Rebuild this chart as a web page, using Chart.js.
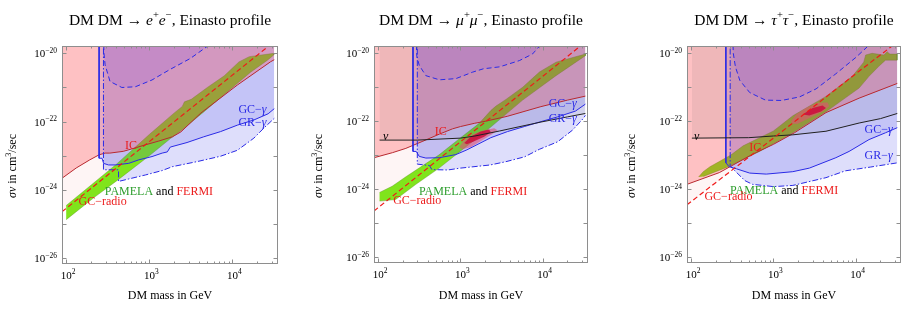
<!DOCTYPE html>
<html>
<head>
<meta charset="utf-8">
<script src="https://cdn.jsdelivr.net/npm/chart.js@4.4.1/dist/chart.umd.min.js"></script>
<style>
  body { margin: 0; background: #fff; }
  #wrap { position: relative; width: 917px; height: 314px; }
  canvas { position: absolute; top: 0; }
</style>
</head>
<body>
<div id="wrap">
  <canvas id="c1" width="305" height="314" style="left:0"></canvas>
  <canvas id="c2" width="305" height="314" style="left:305px"></canvas>
  <canvas id="c3" width="307" height="314" style="left:610px"></canvas>
</div>
<script>
const SERIF = '"Liberation Serif", "DejaVu Serif", serif';

// axis ranges (DM mass in GeV, sigma v in cm^3/s)
const massMin = 89, massMax = 35500;
const sigmaMin = 6.8e-27, sigmaMax = 1.64e-20;
const massTicks = [100, 1000, 10000];
const sigmaTicks = [1e-20, 1e-22, 1e-24, 1e-26];

// ---- DM DM -> e+ e- ----
const icE = [[89,2.2e-24],[132,4.4e-24],[192,7.6e-24],[249,1.07e-23],[294,1.2e-23],[335,1.2e-23],[486,1.35e-23],[705,1.75e-23],[900,2.1e-23],[1300,2.7e-23],[1900,3.6e-23],[2400,5e-23],[4200,1.8e-22],[11500,1.18e-21],[29000,5.7e-21],[32000,6.5e-21]];
const gcE = [[249,3e-20],[249,8.5e-24],[270,8.5e-24],[282,6e-24],[323,5.4e-24],[390,5.4e-24],[565,6e-24],[746,7.6e-24],[1080,9.5e-24],[1430,1.2e-23],[1650,1.3e-23],[1790,1.8e-23],[2850,2.45e-23],[4530,3.6e-23],[7200,5.1e-23],[11500,7.9e-23],[18200,1.12e-22],[27000,1.7e-22],[32000,2.4e-22]];
const grE = [[281,3e-20],[281,3.9e-24],[427,3.9e-24],[427,1.78e-24],[565,2.1e-24],[900,2.75e-24],[1430,3.7e-24],[1890,4.8e-24],[3800,6.8e-24],[7200,9.7e-24],[11500,1.45e-23],[18200,3.3e-23],[24000,6.5e-23],[32000,1.25e-22]];
const uE = [[281,3e-20],[285,1e-20],[294,4.6e-21],[337,1.5e-21],[468,1e-21],[680,1.05e-21],[1080,1.66e-21],[1750,3.3e-21],[3130,7.1e-21],[5000,1.6e-20],[5600,3e-20]];
const radioE = [[89,2.3e-25],[1000,2.6e-23],[10000,2.3e-21],[32000,2.2e-20]];
const bandE = [[100,3.5e-25],[200,1.4e-24],[400,5.6e-24],[1000,4.2e-23],[2000,1.8e-22],[2500,2.8e-22],[2650,3.8e-22],[3200,4.5e-22],[5000,1e-21],[8000,2.2e-21],[12000,5.6e-21],[16000,8e-21],[31500,1e-20],
  [31500,8.9e-21],[26500,6.3e-21],[16600,2.8e-21],[9500,8.9e-22],[4500,1.9e-22],[2600,6.3e-23],[1800,3.2e-23],[1000,1e-23],[423,2e-24],[222,6.3e-25],[100,1.35e-25]];

// ---- DM DM -> mu+ mu- ----
const icMu = [[89,8.5e-24],[150,1.2e-23],[217,1.6e-23],[350,2.6e-23],[555,4.2e-23],[800,6e-23],[1000,7e-23],[1470,8.7e-23],[2000,1e-22],[3700,1.4e-22],[9500,2.7e-22],[20000,4.2e-22],[33000,5.5e-22]];
const gcMu = [[265,3e-20],[265,1.3e-23],[290,1.3e-23],[316,9.3e-24],[380,8.3e-24],[555,8.5e-24],[880,1.05e-23],[1200,1.45e-23],[2340,3.3e-23],[3740,5e-23],[5970,7e-23],[9550,9.8e-23],[15200,1.35e-22],[25000,2e-22],[33000,3.2e-22]];
const grMu = [[299,3e-20],[299,5.5e-24],[420,5e-24],[450,3.8e-24],[700,3.7e-24],[1000,4.2e-24],[2300,5.2e-24],[3570,6.5e-24],[6000,9e-24],[9100,1.5e-23],[15200,2.5e-23],[23000,5.5e-23],[31000,1.2e-22],[33000,1.5e-22]];
const uMu = [[288,3e-20],[295,8e-21],[316,4.4e-21],[380,2.2e-21],[555,1.66e-21],[880,1.8e-21],[1410,2.8e-21],[1900,3.5e-21],[3000,4e-21],[5200,6.1e-21],[7500,9.5e-21],[9100,1.6e-20],[9500,3e-20]];
const nuMu = [[104,2.8e-23],[300,2.8e-23],[1000,3.2e-23],[1500,3.7e-23],[3000,5.2e-23],[9500,9.5e-23],[20000,1.35e-22],[33000,1.7e-22]];
const radioMu = [[89,2.3e-25],[1000,2.5e-23],[10000,2.1e-21],[31000,1.9e-20]];
const bandMu = [[104,8.1e-25],[148,1.23e-24],[215,2.3e-24],[550,1.03e-23],[990,3.2e-23],[1690,8.7e-23],[2350,2.1e-22],[2700,2.8e-22],[3570,4.4e-22],[5700,1e-21],[9100,2.8e-21],[14500,5.5e-21],[33000,9.5e-21],
  [33000,8.5e-21],[14500,2.2e-21],[5700,4.2e-22],[2240,6.2e-23],[990,1.3e-23],[550,4.2e-24],[285,1.38e-24],[163,5e-25],[104,4.5e-25]];
const fitOutMu = [[962,1.74e-23],[1110,2.8e-23],[1470,4.3e-23],[1940,5.5e-23],[2570,6.2e-23],[2830,5.5e-23],[2450,4.2e-23],[1760,2.6e-23],[1330,1.74e-23],[1060,1.5e-23]];
const fitInMu = [[1110,2.3e-23],[1330,3.5e-23],[1760,5e-23],[2230,5.7e-23],[2340,4.8e-23],[1940,3.5e-23],[1470,2.6e-23],[1200,2.1e-23]];

// ---- DM DM -> tau+ tau- ----
const icTau = [[89,1.4e-24],[220,3.1e-24],[556,1.07e-23],[1000,2.1e-23],[1800,4.6e-23],[4350,1.8e-22],[11000,4.8e-22],[32000,1.3e-21]];
const gcTau = [[264,3e-20],[264,6e-24],[290,4.6e-24],[356,4e-24],[515,3e-24],[818,2.8e-24],[1720,3.3e-24],[2730,4.2e-24],[5740,8.5e-24],[8300,1.3e-23],[14500,2.9e-23],[23000,4.6e-23],[32000,6.5e-23]];
const grTau = [[298,3e-20],[298,5e-24],[340,3.5e-24],[450,1.8e-24],[556,1.4e-24],[1000,1.2e-24],[1720,1.3e-24],[4350,2.2e-24],[7500,3.5e-24],[15000,4.5e-24],[32000,6e-24]];
const uTau = [[320,3e-20],[325,1e-20],[345,4e-21],[390,1.6e-21],[515,7e-22],[800,4.2e-22],[1250,4.1e-22],[2070,5.2e-22],[3300,9e-22],[5740,2.5e-21],[10000,7.5e-21],[14000,1.6e-20],[15500,3e-20]];
const nuTau = [[102,3.2e-23],[500,3.3e-23],[1000,3.7e-23],[1720,4e-23],[4350,5.1e-23],[11000,8.9e-23],[20000,1.2e-22],[32000,1.7e-22]];
const radioTau = [[89,3.5e-25],[1000,3.2e-23],[10000,2.5e-21],[30000,1.9e-20]];
const bandTau = [[123,2.3e-24],[140,3.3e-24],[169,4.6e-24],[300,1e-23],[428,1.9e-23],[1000,5.2e-23],[1720,1.45e-22],[4350,5.4e-22],[9100,2.1e-21],[12500,5.5e-21],[13200,8.9e-21],[15800,1e-20],[22000,8.9e-21],[24000,1.12e-20],[26000,9.5e-21],[31800,9.5e-21],
  [31800,6.3e-21],[23000,6.3e-21],[19000,4.1e-21],[14500,2.1e-21],[11000,9.5e-22],[4350,1.9e-22],[1720,4.6e-23],[680,1.3e-23],[270,4.4e-24],[141,2.4e-24]];
const fitOutTau = [[1640,1e-22],[1890,1.58e-22],[2490,2.45e-22],[3440,3.5e-22],[4540,3.6e-22],[4760,2.75e-22],[3950,1.95e-22],[2730,1.26e-22],[1970,8.5e-23],[1690,8.5e-23]];
const fitInTau = [[2270,1.58e-22],[2990,2.45e-22],[3950,2.9e-22],[4350,2.45e-22],[3790,1.95e-22],[2730,1.48e-22]];

const RED = '#ec1c1c', BLUE = '#2a2ae6', GREEN = '#2e9e2e';

// text notes inside the plots, anchored at (mass, sigma v)
const pamela = [{t:'PAMELA', c:GREEN}, {t:' and ', c:'#000'}, {t:'FERMI', c:RED}];
const notesE = [
  {parts:[{t:'IC', c:RED}], x:603, y:2.1e-23, align:'center'},
  {parts:[{t:'GC−', c:BLUE}, {t:'γ', c:BLUE, it:1}], x:17500, y:2.3e-22, align:'center'},
  {parts:[{t:'GR−', c:BLUE}, {t:'γ', c:BLUE, it:1}], x:17500, y:9.5e-23, align:'center'},
  {parts:pamela, x:292, y:9.3e-25, align:'left'},
  {parts:[{t:'GC−radio', c:RED}], x:141, y:4.8e-25, align:'left'}
];
const notesMu = [
  {parts:[{t:'ν', c:'#000', it:1}], x:123, y:3.7e-23, align:'center'},
  {parts:[{t:'IC', c:RED}], x:575, y:5.2e-23, align:'center'},
  {parts:[{t:'GC−', c:BLUE}, {t:'γ', c:BLUE, it:1}], x:17500, y:3.5e-22, align:'center'},
  {parts:[{t:'GR−', c:BLUE}, {t:'γ', c:BLUE, it:1}], x:17500, y:1.26e-22, align:'center'},
  {parts:pamela, x:313, y:8.7e-25, align:'left'},
  {parts:[{t:'GC−radio', c:RED}], x:152, y:4.8e-25, align:'left'}
];
const notesTau = [
  {parts:[{t:'ν', c:'#000', it:1}], x:117, y:3.8e-23, align:'center'},
  {parts:[{t:'IC', c:RED}], x:603, y:1.7e-23, align:'center'},
  {parts:[{t:'GC−', c:BLUE}, {t:'γ', c:BLUE, it:1}], x:19000, y:6e-23, align:'center'},
  {parts:[{t:'GR−', c:BLUE}, {t:'γ', c:BLUE, it:1}], x:19000, y:1e-23, align:'center'},
  {parts:pamela, x:296, y:9.3e-25, align:'left'},
  {parts:[{t:'GC−radio', c:RED}], x:145, y:6.2e-25, align:'left'}
];

function richParts(ctx, parts, size) {
  return parts.map(p => {
    const s = p.sup ? size * 0.68 : size;
    const font = (p.it ? 'italic ' : '') + s + 'px ' + SERIF;
    ctx.font = font;
    return {t: p.t, font, w: ctx.measureText(p.t).width, dy: p.sup ? -size * 0.42 : 0, c: p.c};
  });
}

function drawRich(ctx, parts, x, y, size, align) {
  const r = richParts(ctx, parts, size);
  const w = r.reduce((s, p) => s + p.w, 0);
  let cx = align === 'center' ? x - w / 2 : align === 'right' ? x - w : x;
  ctx.textAlign = 'left';
  ctx.textBaseline = 'alphabetic';
  r.forEach(p => {
    ctx.font = p.font;
    ctx.fillStyle = p.c || '#000';
    ctx.fillText(p.t, cx, y + p.dy);
    cx += p.w;
  });
}

function decor(cfg) {
  return {
    id: 'decor',
    afterDraw(chart) {
      const ctx = chart.ctx, a = chart.chartArea;
      const xs = chart.scales.x, ys = chart.scales.y;
      ctx.save();
      ctx.beginPath();
      ctx.rect(a.left, a.top, a.right - a.left, a.bottom - a.top);
      ctx.clip();
      cfg.notes.forEach(n => {
        drawRich(ctx, n.parts, xs.getPixelForValue(n.x), ys.getPixelForValue(n.y) + 4, 12, n.align);
      });
      ctx.restore();

      ctx.save();
      ctx.strokeStyle = '#8e8e8e';
      ctx.lineWidth = 1;
      ctx.strokeRect(a.left + 0.5, a.top + 0.5, a.right - a.left - 1, a.bottom - a.top - 1);
      const seg = (x1, y1, x2, y2) => { ctx.beginPath(); ctx.moveTo(x1, y1); ctx.lineTo(x2, y2); ctx.stroke(); };
      for (let d = 1; d <= 4; d++) {
        for (let m = 1; m <= 9; m++) {
          const v = m * Math.pow(10, d);
          if (v < massMin || v > massMax) continue;
          const px = Math.round(xs.getPixelForValue(v)) + 0.5;
          const len = m === 1 ? 4.5 : 2.5;
          seg(px, a.bottom, px, a.bottom - len);
          seg(px, a.top, px, a.top + len);
        }
      }
      for (let e = -26; e <= -20; e++) {
        const py = Math.round(ys.getPixelForValue(Math.pow(10, e))) + 0.5;
        seg(a.left, py, a.left + 4.5, py);
        seg(a.right, py, a.right - 4.5, py);
      }
      ctx.restore();

      ctx.save();
      massTicks.forEach(v => {
        const ex = String(Math.round(Math.log10(v)));
        drawRich(ctx, [{t:'10'}, {t:ex, sup:1}], xs.getPixelForValue(v) + 2, a.bottom + 15, 11, 'center');
      });
      sigmaTicks.forEach(v => {
        const ex = '−' + String(-Math.round(Math.log10(v)));
        drawRich(ctx, [{t:'10'}, {t:ex, sup:1}], a.left - 5, ys.getPixelForValue(v) + 4, 11, 'right');
      });
      drawRich(ctx, [{t:'DM mass in GeV'}], (a.left + a.right) / 2, 299, 12, 'center');
      drawRich(ctx, cfg.title, (a.left + a.right) / 2, 25, 15.5, 'center');
      ctx.translate(cfg.yTitleX, 166);
      ctx.rotate(-Math.PI / 2);
      drawRich(ctx, [{t:'σv', it:1}, {t:' in cm'}, {t:'3', sup:1}, {t:'/sec'}], 0, 4, 12, 'center');
      ctx.restore();
    }
  };
}

const pts = arr => arr.map(([x, y]) => ({x, y}));
const area = (arr, color, fill) => ({data: pts(arr), showLine: true, fill, backgroundColor: color, borderWidth: 0, pointRadius: 0});
const curve = (arr, color, dash, width) => ({data: pts(arr), showLine: true, fill: false, borderColor: color, borderWidth: width || 1, borderDash: dash || [], pointRadius: 0});

function buildSets(p) {
  const band = area(p.band, 'rgb(128,228,28)', 'shape');
  band.borderWidth = 0.6;
  band.borderColor = 'rgba(90,150,30,0.7)';
  const list = [];
  list.push(area(p.radio, 'rgba(235,60,60,0.05)', 'end'));
  list.push(area(p.gr, 'rgba(60,60,230,0.17)', 'end'));
  // the PAMELA/FERMI band sits between the GR-gamma and GC-gamma layers
  list.push(band);
  list.push(area(p.gc, 'rgba(60,60,230,0.16)', 'end'));
  list.push(area(p.ic, 'rgba(255,50,60,0.27)', 'end'));
  if (p.nu) list.push(area(p.nu, 'rgba(70,60,60,0.08)', 'end'));
  list.push(area(p.u, 'rgba(100,50,255,0.12)', 'end'));
  if (p.fitOut) {
    list.push(area(p.fitOut, 'rgba(225,80,115,0.6)', 'shape'));
    list.push(area(p.fitIn, 'rgba(205,10,60,0.85)', 'shape'));
  }
  list.push(curve(p.ic, '#b8282e'));
  list.push(curve(p.gc, BLUE));
  list.push(curve(p.gr, BLUE, [6, 2, 1.5, 2]));
  list.push(curve(p.u, BLUE, [5, 3]));
  if (p.nu) list.push(curve(p.nu, '#202020'));
  list.push(curve(p.radio, '#f01818', [5, 3], 1.2));
  list.forEach((d, i) => { d.order = list.length - i; });
  return list;
}

const particleTitle = s => [{t:'DM DM → '}, {t:s, it:1}, {t:'+', sup:1}, {t:s, it:1}, {t:'−', sup:1}, {t:', Einasto profile'}];

const panels = [
  {canvas:'c1', pad:{left:62, right:27, top:46, bottom:50}, yTitleX:12, title:particleTitle('e'), notes:notesE,
   ic:icE, gc:gcE, gr:grE, u:uE, radio:radioE, band:bandE},
  {canvas:'c2', pad:{left:69, right:22, top:46, bottom:51}, yTitleX:13, title:particleTitle('μ'), notes:notesMu,
   ic:icMu, gc:gcMu, gr:grMu, u:uMu, nu:nuMu, radio:radioMu, band:bandMu, fitOut:fitOutMu, fitIn:fitInMu},
  {canvas:'c3', pad:{left:77, right:16, top:46, bottom:51}, yTitleX:21, title:particleTitle('τ'), notes:notesTau,
   ic:icTau, gc:gcTau, gr:grTau, u:uTau, nu:nuTau, radio:radioTau, band:bandTau, fitOut:fitOutTau, fitIn:fitInTau}
];

panels.forEach(p => {
  new Chart(document.getElementById(p.canvas), {
    type: 'scatter',
    data: {datasets: buildSets(p)},
    options: {
      responsive: false,
      animation: false,
      devicePixelRatio: 1,
      layout: {padding: p.pad},
      elements: {line: {tension: 0}, point: {radius: 0}},
      plugins: {legend: {display: false}, tooltip: {enabled: false}},
      scales: {
        x: {type: 'logarithmic', min: massMin, max: massMax, display: false},
        y: {type: 'logarithmic', min: sigmaMin, max: sigmaMax, display: false}
      }
    },
    plugins: [decor(p)]
  });
});
</script>
</body>
</html>
